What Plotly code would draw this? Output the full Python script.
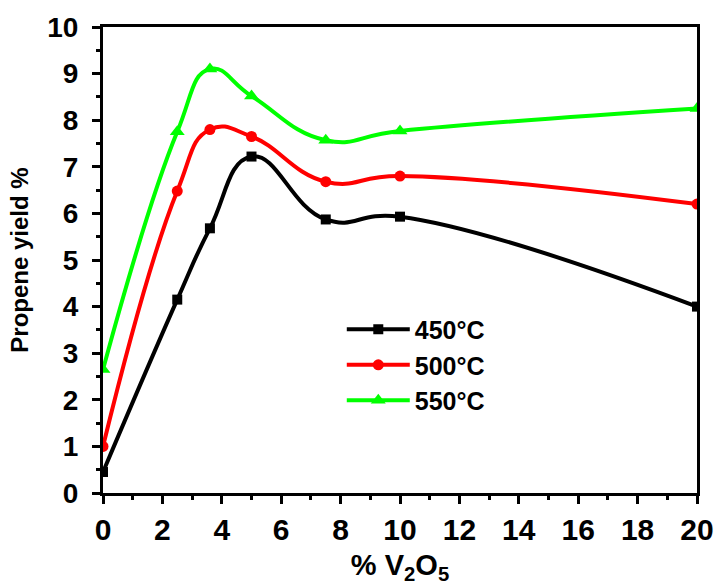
import plotly.graph_objects as go

x_vals = [0, 2.5, 3.6, 5, 7.5, 10, 20]
y_450 = [0.45, 4.15, 5.68, 7.22, 5.87, 5.93, 4.0]
y_500 = [1.0, 6.48, 7.8, 7.65, 6.68, 6.8, 6.2]
y_550 = [2.65, 7.75, 9.1, 8.52, 7.57, 7.77, 8.25]
names = ["450°C", "500°C", "550°C"]
colors = ["#000000", "#FF0000", "#00FF00"]
symbols = ["square", "circle", "triangle-up"]
sizes = [10, 11, 13]

FONT = "Liberation Sans"

fig = go.Figure()
for ys, nm, c, s, sz in zip([y_450, y_500, y_550], names, colors, symbols, sizes):
    fig.add_trace(go.Scatter(
        x=x_vals, y=ys, name=nm, mode="lines+markers",
        line=dict(color=c, width=4, shape="spline", smoothing=1.3),
        marker=dict(symbol=s, size=sz, color=c),
    ))

axis_common = dict(
    showline=True, linecolor="black", linewidth=3, mirror=True,
    ticks="outside", ticklen=8, tickwidth=3, tickcolor="black",
    showgrid=False, zeroline=False, automargin=False,
)

fig.update_layout(
    width=719, height=587,
    margin=dict(l=103, r=22, t=27, b=94),
    plot_bgcolor="white", paper_bgcolor="white",
    font=dict(family=FONT, color="black"),
    xaxis=dict(range=[0, 20], dtick=2,
               minor=dict(dtick=1, ticks="outside", ticklen=4, tickwidth=3, tickcolor="black"),
               tickfont=dict(size=30, family=FONT, weight="bold"),
               title=dict(text="% V<sub>2</sub>O<sub>5</sub>", font=dict(size=29, family=FONT, weight="bold"), standoff=10),
               **axis_common),
    yaxis=dict(range=[0, 10], dtick=1,
               minor=dict(dtick=0.5, ticks="outside", ticklen=4, tickwidth=3, tickcolor="black"),
               tickfont=dict(size=28, family=FONT, weight="bold"),
               ticklabelstandoff=8,
               title=dict(text="Propene yield %", font=dict(size=24, family=FONT, weight="bold"), standoff=12),
               **axis_common),
    legend=dict(x=0.402, y=0.40, xanchor="left", yanchor="top",
                font=dict(size=25, family=FONT, weight="bold"),
                bgcolor="rgba(0,0,0,0)", itemwidth=63, tracegroupgap=0),
    showlegend=True,
)

fig.write_html("out.html")
